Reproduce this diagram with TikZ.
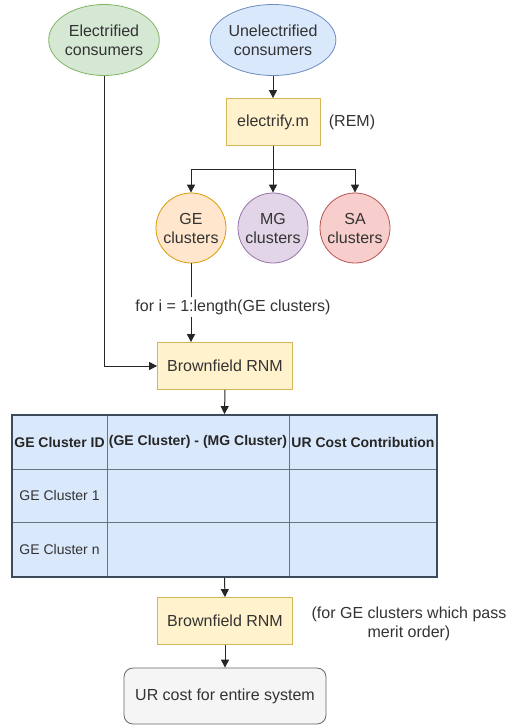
\documentclass[tikz,border=0pt]{standalone}
\usepackage{fontspec}
\setmainfont{Liberation Sans}
\usetikzlibrary{shapes.geometric,arrows.meta}
\definecolor{gfill}{HTML}{D5E8D4}\definecolor{gline}{HTML}{82B366}
\definecolor{bfill}{HTML}{DAE8FC}\definecolor{bline}{HTML}{6C8EBF}
\definecolor{yfill}{HTML}{FFF2CC}\definecolor{yline}{HTML}{D6B656}
\definecolor{ofill}{HTML}{FFE6CC}\definecolor{oline}{HTML}{D79B00}
\definecolor{pfill}{HTML}{E1D5E7}\definecolor{pline}{HTML}{9673A6}
\definecolor{rfill}{HTML}{F8CECC}\definecolor{rline}{HTML}{B85450}
\definecolor{sfill}{HTML}{F5F5F5}\definecolor{sline}{HTML}{666666}
\definecolor{tline}{HTML}{3D4A5A}\definecolor{tinner}{HTML}{6B7380}
\definecolor{txt}{HTML}{333333}
\begin{document}
\begin{tikzpicture}[x=1pt,y=-1pt,
  every node/.style={font=\fontsize{16}{19}\selectfont, text=txt, inner sep=0pt, align=center},
  ell/.style={ellipse, draw, line width=0.8pt},
  circ/.style={circle, draw, line width=0.8pt, minimum size=70pt},
  proc/.style={rectangle, draw=yline, fill=yfill, line width=0.8pt, minimum height=47pt},
  cell/.style={font=\fontsize{14}{17}\selectfont},
  hcell/.style={font=\fontsize{14}{17}\selectfont\bfseries, text=black!85},
  arr/.style={draw=black!85, line width=1pt, -{Triangle[length=8pt,width=8pt]}},
  ln/.style={draw=black!85, line width=1pt}]
\useasboundingbox (0,0) rectangle (511,725);
% top nodes
\node[ell, fill=gfill, draw=gline, minimum width=106pt, minimum height=71pt] (elec) at (104,40) {Electrified\\consumers};
\node[ell, fill=bfill, draw=bline, minimum width=112pt, minimum height=71pt] (unel) at (273,40) {Unelectrified\\consumers};
\node[proc, minimum width=94pt] (efy) at (273,122) {electrify.m};
\node (rem) at (352,122) {(REM)};
\node[circ, fill=ofill, draw=oline] (ge) at (191,228) {GE\\clusters};
\node[circ, fill=pfill, draw=pline] (mg) at (273,228) {MG\\clusters};
\node[circ, fill=rfill, draw=rline] (sa) at (355,228) {SA\\clusters};
\node[inner sep=2pt] (loop) at (233,307) {for i = 1:length(GE clusters)};
\node[proc, minimum width=135pt] (brn1) at (225,366) {Brownfield RNM};
% table
\node[rectangle, draw=tline, fill=bfill, line width=1.8pt, minimum width=425pt, minimum height=162pt] (tbl) at (224.5,496) {};
\draw[tinner, line width=0.8pt] (107,415) -- (107,577) (289,415) -- (289,577) (12,469) -- (437,469) (12,522) -- (437,522);
\draw[tline, line width=1.8pt] (12,415) rectangle (437,577);
\node[hcell] (h1) at (59.5,442) {GE Cluster ID};
\node[hcell] (h2) at (198,442) {(GE Cluster) - (MG Cluster)};
\node[hcell] (h3) at (363,442) {UR Cost Contribution};
\node[cell] (r1) at (59.5,495.5) {GE Cluster 1};
\node[cell] (r2) at (59.5,549.5) {GE Cluster n};
% lower nodes
\node[proc, minimum width=135pt] (brn2) at (225,621) {Brownfield RNM};
\node (note) at (409,624) {(for GE clusters which pass\\merit order)};
\node[rectangle, rounded corners=9pt, draw=sline, fill=sfill, line width=0.8pt, minimum width=202pt, minimum height=56pt] (ur) at (225,696) {UR cost for entire system};
% connectors
\draw[arr] (unel.south) -- (efy.north);
\draw[arr] (efy.south) -- ++(0,24) -| (ge.north);
\draw[arr] (efy.south) -- ++(0,24) -| (sa.north);
\draw[arr] (efy.south) -- (mg.north);
\draw[ln] (ge.south) -- (ge.south |- loop.north);
\draw[arr] (ge.south |- loop.south) -- (ge.south |- brn1.north);
\draw[arr] (elec.south) |- (brn1.west);
\draw[arr] (brn1.south) -- (tbl.north);
\draw[arr] (tbl.south) -- (brn2.north);
\draw[arr] (brn2.south) -- (ur.north);
\end{tikzpicture}
\end{document}
